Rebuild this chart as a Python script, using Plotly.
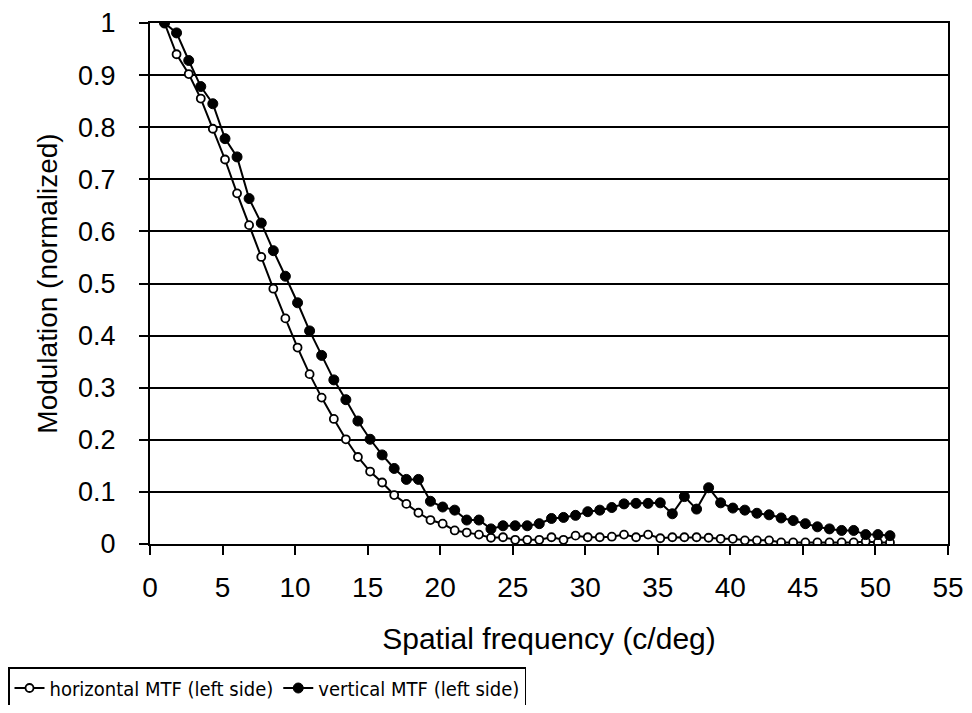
import plotly.graph_objects as go

freq = [1.0, 1.83, 2.67, 3.5, 4.33, 5.17, 6.0, 6.83, 7.67, 8.5, 9.33, 10.17, 11.0, 11.83,
        12.67, 13.5, 14.33, 15.17, 16.0, 16.83, 17.67, 18.5, 19.33, 20.17, 21.0, 21.83,
        22.67, 23.5, 24.33, 25.17, 26.0, 26.83, 27.67, 28.5, 29.33, 30.17, 31.0, 31.83,
        32.67, 33.5, 34.33, 35.17, 36.0, 36.83, 37.67, 38.5, 39.33, 40.17, 41.0, 41.83,
        42.67, 43.5, 44.33, 45.17, 46.0, 46.83, 47.67, 48.5, 49.33, 50.17, 51.0]

horizontal = [1.0, 0.940, 0.902, 0.855, 0.797, 0.738, 0.673, 0.612, 0.551, 0.490, 0.433,
              0.377, 0.326, 0.281, 0.240, 0.201, 0.167, 0.139, 0.118, 0.094, 0.077, 0.060,
              0.046, 0.039, 0.026, 0.022, 0.018, 0.012, 0.013, 0.008, 0.008, 0.008, 0.013,
              0.008, 0.016, 0.013, 0.013, 0.014, 0.018, 0.013, 0.018, 0.011, 0.013, 0.013,
              0.013, 0.012, 0.010, 0.010, 0.007, 0.007, 0.007, 0.003, 0.003, 0.003, 0.003,
              0.003, 0.003, 0.003, 0.005, 0.003, 0.003]

vertical = [1.0, 0.981, 0.928, 0.878, 0.845, 0.778, 0.743, 0.663, 0.616, 0.563, 0.514,
            0.463, 0.409, 0.362, 0.315, 0.277, 0.236, 0.201, 0.171, 0.145, 0.124, 0.124,
            0.082, 0.071, 0.065, 0.046, 0.046, 0.029, 0.035, 0.035, 0.035, 0.039, 0.049,
            0.051, 0.055, 0.062, 0.065, 0.070, 0.077, 0.078, 0.078, 0.079, 0.058, 0.091,
            0.067, 0.108, 0.079, 0.069, 0.065, 0.059, 0.056, 0.050, 0.045, 0.039, 0.033,
            0.029, 0.026, 0.026, 0.018, 0.018, 0.016]

x_ticks = [0, 5, 10, 15, 20, 25, 30, 35, 40, 45, 50, 55]
y_ticks = [0, 0.1, 0.2, 0.3, 0.4, 0.5, 0.6, 0.7, 0.8, 0.9, 1]
y_tick_text = ["0", "0.1", "0.2", "0.3", "0.4", "0.5", "0.6", "0.7", "0.8", "0.9", "1"]

FONT = "Liberation Sans, Arial, sans-serif"
NARROW = "Liberation Sans Narrow, Arial Narrow, DejaVu Sans Condensed, Liberation Sans, sans-serif"

# page body has an 8px margin; figure sized so the page fits the 972x713 window
W, H = 956, 697

fig = go.Figure()
fig.add_trace(go.Scatter(
    x=freq, y=horizontal, mode="lines+markers", name="horizontal MTF (left side)",
    line=dict(color="black", width=2),
    marker=dict(symbol="circle", size=8, color="white", line=dict(color="black", width=1.8)),
))
fig.add_trace(go.Scatter(
    x=freq, y=vertical, mode="lines+markers", name="vertical MTF (left side)",
    line=dict(color="black", width=2),
    marker=dict(symbol="circle", size=10, color="black", line=dict(color="black", width=1)),
))

fig.update_layout(
    width=W, height=H,
    paper_bgcolor="white", plot_bgcolor="white",
    margin=dict(l=142, r=16, t=15, b=161),
    font=dict(family=FONT, size=27, color="black"),
    showlegend=True,
    legend=dict(
        orientation="h", x=0.0, y=1 - 659 / H, xref="container", yref="container",
        xanchor="left", yanchor="top",
        bordercolor="black", borderwidth=1.5, bgcolor="white",
        font=dict(family=NARROW, size=20, color="black"),
        itemwidth=30, tracegroupgap=0,
    ),
    xaxis=dict(
        range=[0, 55], tickmode="array", tickvals=x_ticks, automargin=False,
        showgrid=False, zeroline=False,
        showline=True, linecolor="black", linewidth=2, mirror=True,
        ticks="outside", ticklen=9, tickwidth=2, tickcolor="black",
        tickfont=dict(family=FONT, size=28), ticklabelstandoff=8,
        ticklabeloverflow="allow",
        title=dict(text="Spatial frequency (c/deg)", font=dict(family=FONT, size=30), standoff=26),
    ),
    yaxis=dict(
        range=[0, 1], tickmode="array", tickvals=y_ticks, ticktext=y_tick_text, automargin=False,
        showgrid=True, gridcolor="black", gridwidth=2, zeroline=False,
        showline=True, linecolor="black", linewidth=2, mirror=True,
        ticks="outside", ticklen=9, tickwidth=2, tickcolor="black",
        tickfont=dict(family=FONT, size=27), ticklabelstandoff=18,
        ticklabeloverflow="allow",
        title=dict(text="Modulation (normalized)", font=dict(family=FONT, size=28), standoff=12),
    ),
)

fig.write_html("out.html")
